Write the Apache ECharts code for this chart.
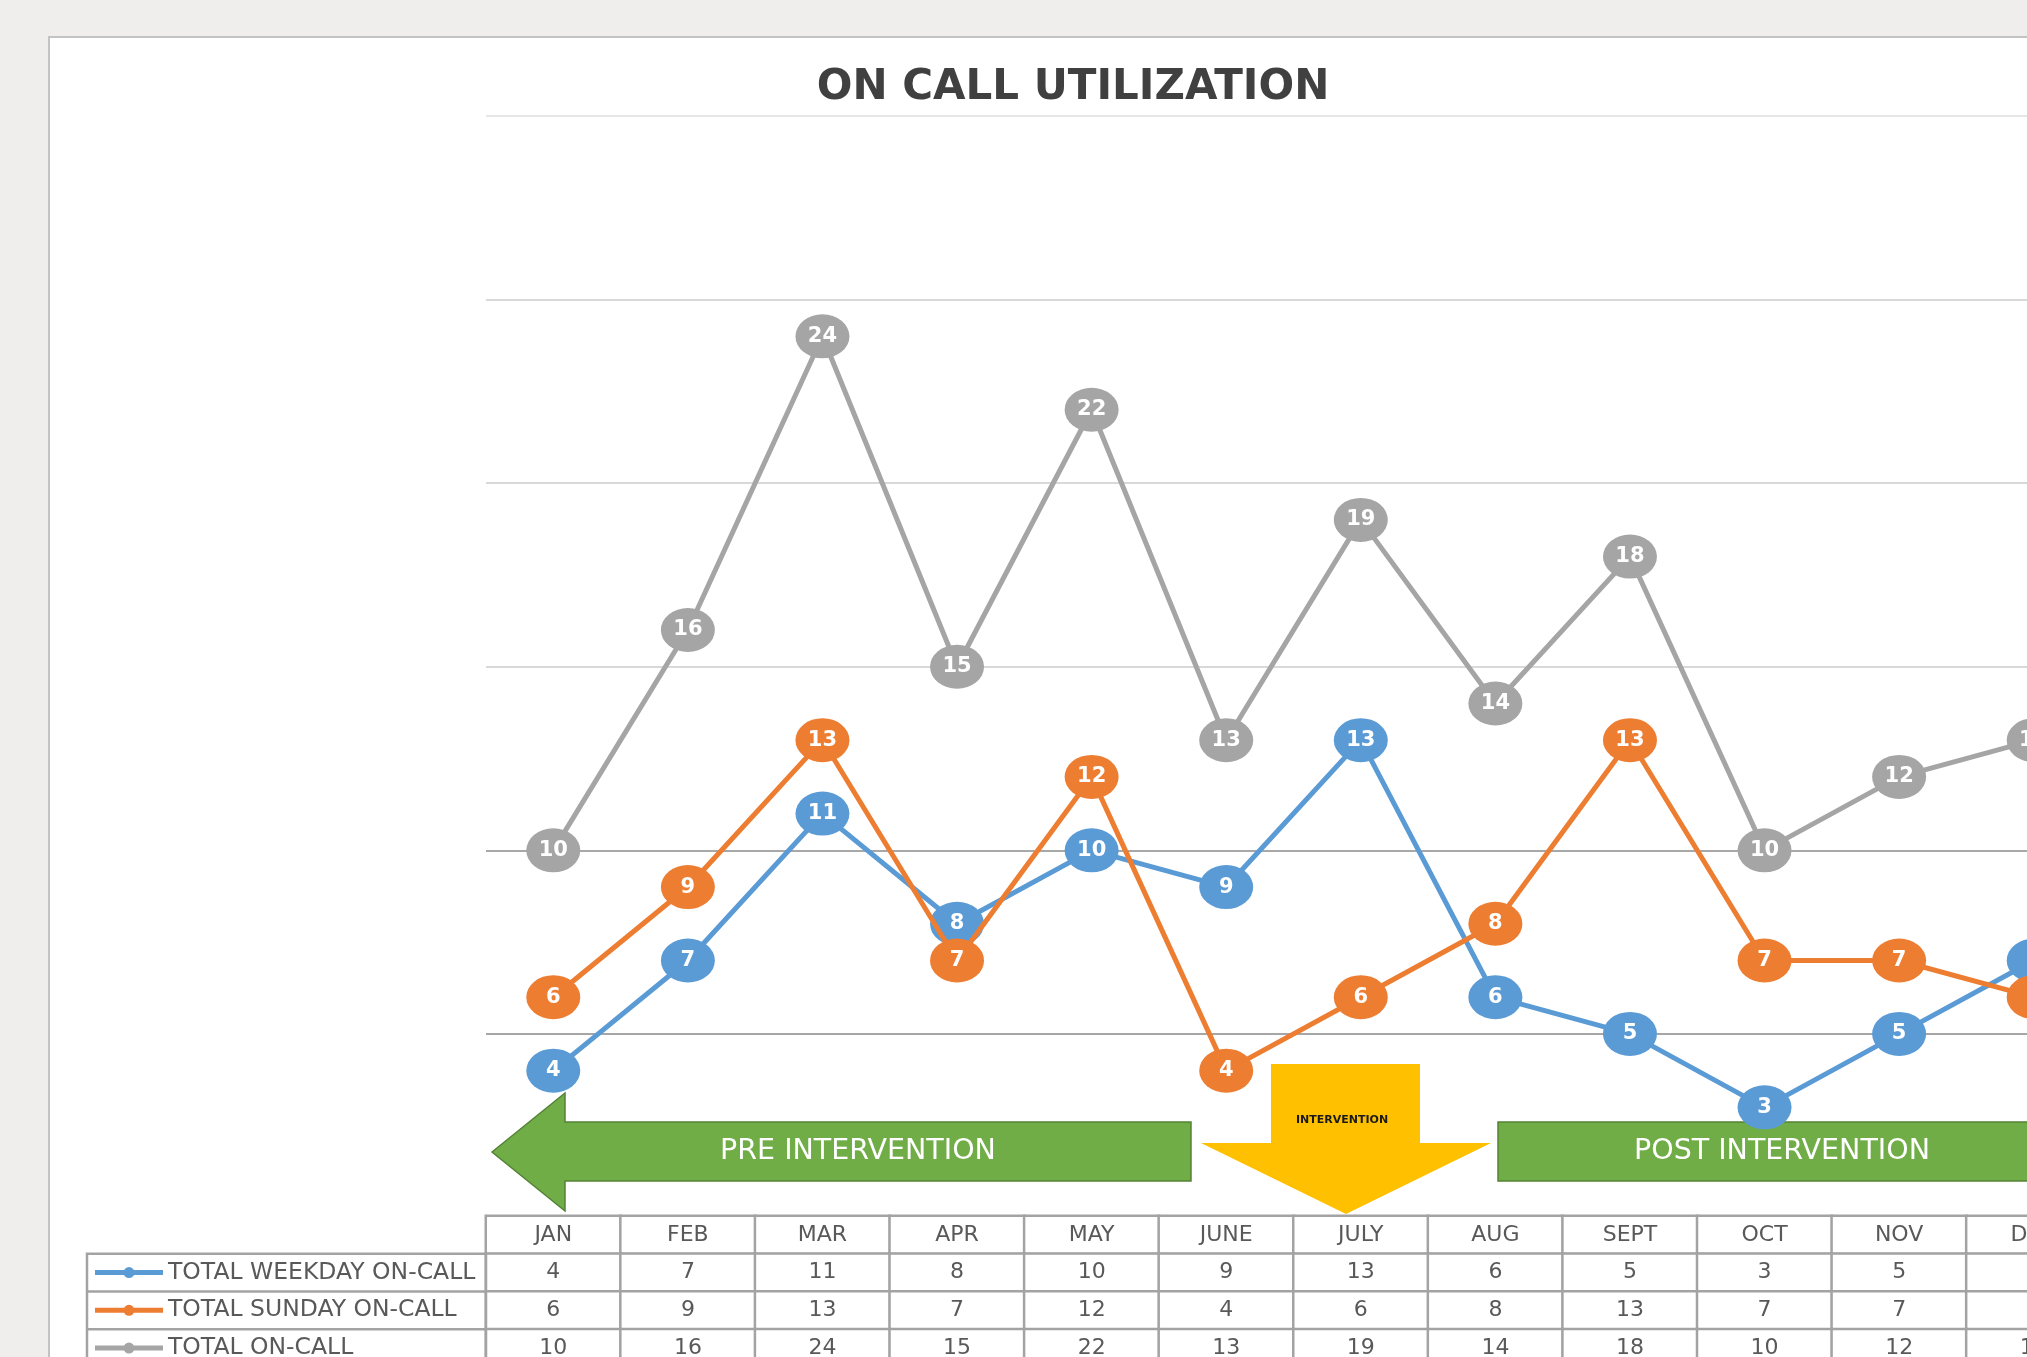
<!DOCTYPE html>
<html><head><meta charset="utf-8">
<script src="https://cdn.jsdelivr.net/npm/echarts@6/dist/echarts.min.js"></script>
<style>
html,body{margin:0;padding:0;width:2027px;height:1357px;overflow:hidden;background:#efeeec;}
#panel{position:absolute;left:48px;top:36px;width:3000px;height:3000px;background:#fff;border:2px solid #c3c3c3;}
#chart{position:absolute;left:0;top:0;width:2200px;height:1460px;}
</style></head><body><div id="panel"></div><div id="chart"></div>
<script>
// ---- data ----
const months = ['JAN','FEB','MAR','APR','MAY','JUNE','JULY','AUG','SEPT','OCT','NOV','DEC'];
const weekday = [4,7,11,8,10,9,13,6,5,3,5,7];
const sunday  = [6,9,13,7,12,4,6,8,13,7,7,6];
const total   = [10,16,24,15,22,13,19,14,18,10,12,13];
const seriesNames = ['TOTAL WEEKDAY ON-CALL','TOTAL SUNDAY ON-CALL','TOTAL ON-CALL'];
const tableRows = ['HEADER','TOTAL WEEKDAY ON-CALL','TOTAL SUNDAY ON-CALL','TOTAL ON-CALL'];
const yMin = 0, yMax = 30, yStep = 5;
const titleText = 'ON CALL UTILIZATION';
const preText = 'PRE INTERVENTION';
const postText = 'POST INTERVENTION';
const midText = 'INTERVENTION';

// ---- styles / layout ----
const colors = ['#5b9bd5','#ed7d31','#a5a5a5'];
const FONT = 'DejaVu Sans';
const TXT = '#595959';
const BORDER = '#a3a3a3';
const ELLIPSE = 'path://M0,50A50,50 0 1 1 100,50A50,50 0 1 1 0,50Z';
const LEG_ICON = 'path://M0,3L68,3L68,8L0,8Z M28.5,5.5A5.5,5.5 0 1 1 39.5,5.5A5.5,5.5 0 1 1 28.5,5.5Z';
const PL = 486, PW = 1615, PT = 116, PH = 1101.5;
const TT = 1216, TH = 151;

const seriesData = [weekday, sunday, total];

const lineSeries = seriesData.map((d, i) => ({
  name: seriesNames[i],
  type: 'line',
  xAxisIndex: 0, yAxisIndex: 0,
  data: d,
  symbol: ELLIPSE,
  symbolSize: [54, 44],
  symbolKeepAspect: false,
  lineStyle: { width: 5, color: colors[i] },
  itemStyle: { color: colors[i] },
  label: { show: true, position: 'inside', color: '#fff', fontFamily: FONT, fontWeight: 'bold', fontSize: 21 },
  emphasis: { disabled: true },
  animation: false,
  z: 3 + i
}));

const headerCells = months.map((m, i) => [i, 0, 0]);
const valueCells = [];
seriesData.forEach((d, r) => d.forEach((v, i) => valueCells.push([i, r + 1, v])));

const cellStyle = { color: '#fff', borderColor: BORDER, borderWidth: 2.5 };
const cellLabel = { show: true, fontFamily: FONT, fontSize: 22, color: TXT };

const option = {
  animation: false,
  backgroundColor: 'transparent',
  grid: [
    { left: PL, top: PT, width: PW, height: PH, containLabel: false },
    { left: PL, top: TT, width: PW, height: TH, containLabel: false }
  ],
  xAxis: [
    { type: 'category', gridIndex: 0, data: months, boundaryGap: true,
      axisLine: { show: false }, axisTick: { show: false }, axisLabel: { show: false } },
    { type: 'category', gridIndex: 1, data: months, boundaryGap: true,
      axisLine: { show: false }, axisTick: { show: false }, axisLabel: { show: false } }
  ],
  yAxis: [
    { type: 'value', gridIndex: 0, min: yMin, max: yMax, interval: yStep,
      axisLine: { show: false }, axisTick: { show: false }, axisLabel: { show: false },
      splitLine: { show: true, lineStyle: { width: 2, color: ['#a6a6a6','#a6a6a6','#a8a8a8','#d9d9d9','#d9d9d9','#d9d9d9','#e6e6e6'] } } },
    { type: 'category', gridIndex: 1, data: tableRows, inverse: true,
      axisLine: { show: false }, axisTick: { show: false }, axisLabel: { show: false }, splitLine: { show: false } }
  ],
  legend: {
    show: true, orient: 'vertical', left: 95, top: 1253.7, padding: 0,
    itemWidth: 68, itemHeight: 11, itemGap: 0, selectedMode: false,
    data: seriesNames.map(n => ({ name: n, icon: LEG_ICON })),
    textStyle: { fontFamily: FONT, fontSize: 23.5, color: TXT, lineHeight: 37.75 }
  },
  series: [
    { type: 'heatmap', name: 'hdr', xAxisIndex: 1, yAxisIndex: 1, data: headerCells,
      itemStyle: cellStyle, emphasis: { disabled: true },
      label: Object.assign({}, cellLabel, { formatter: p => months[p.value[0]] }) },
    { type: 'heatmap', name: 'vals', xAxisIndex: 1, yAxisIndex: 1, data: valueCells,
      itemStyle: cellStyle, emphasis: { disabled: true },
      label: Object.assign({}, cellLabel, { formatter: p => String(p.value[2]) }) }
  ].concat(lineSeries),
  graphic: [
    { type: 'text', x: 1073, y: 88, z: 10,
      style: { text: titleText, fontFamily: FONT, fontWeight: 'bold', fontSize: 42, fill: '#404040', textAlign: 'center', textVerticalAlign: 'middle' } },
    // legend column borders
    { type: 'rect', z: 10, shape: { x: 87, y: 1253.75, width: 399, height: 200 },
      style: { fill: 'none', stroke: BORDER, lineWidth: 2.5 } },
    { type: 'line', z: 10, shape: { x1: 87, y1: 1291.5, x2: 486, y2: 1291.5 }, style: { stroke: BORDER, lineWidth: 2.5 } },
    { type: 'line', z: 10, shape: { x1: 87, y1: 1329.25, x2: 486, y2: 1329.25 }, style: { stroke: BORDER, lineWidth: 2.5 } },
    // PRE arrow
    { type: 'polygon', z: 1, shape: { points: [[492,1152],[565,1093],[565,1122],[1191,1122],[1191,1181],[565,1181],[565,1211]] },
      style: { fill: '#70ad47', stroke: '#548235', lineWidth: 1.5 } },
    { type: 'text', z: 2, x: 858, y: 1152,
      style: { text: preText, fontFamily: FONT, fontSize: 28.5, fill: '#fff', textAlign: 'center', textVerticalAlign: 'middle' } },
    // POST arrow
    { type: 'polygon', z: 1, shape: { points: [[1498,1122],[2130,1122],[2130,1093],[2200,1152],[2130,1211],[2130,1181],[1498,1181]] },
      style: { fill: '#70ad47', stroke: '#548235', lineWidth: 1.5 } },
    { type: 'text', z: 2, x: 1782, y: 1152,
      style: { text: postText, fontFamily: FONT, fontSize: 28.5, fill: '#fff', textAlign: 'center', textVerticalAlign: 'middle' } },
    // intervention down arrow
    { type: 'polygon', z: 1, shape: { points: [[1271,1064],[1420,1064],[1420,1143],[1491,1143],[1346,1214],[1201,1143],[1271,1143]] },
      style: { fill: '#ffc000' } },
    { type: 'text', z: 2, x: 1342, y: 1120,
      style: { text: midText, fontFamily: FONT, fontWeight: 'bold', fontSize: 11, fill: '#1a1a1a', textAlign: 'center', textVerticalAlign: 'middle' } }
  ]
};

const chart = echarts.init(document.getElementById('chart'), null, { renderer: 'canvas' });
chart.setOption(option);
</script></body></html>
